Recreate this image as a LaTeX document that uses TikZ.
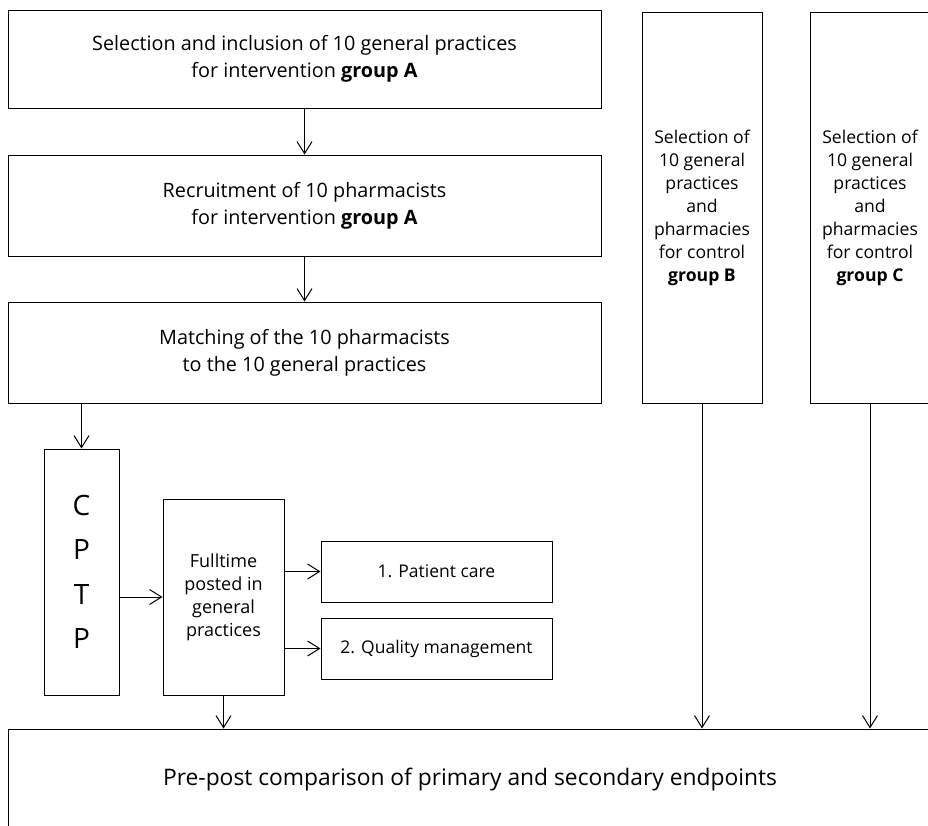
\documentclass[tikz,border=0pt]{standalone}
\usepackage{fontspec}
\setmainfont{Open Sans}
\usepackage{tikz}
\usetikzlibrary{arrows.meta,positioning}

\begin{document}
\begin{tikzpicture}[
    x=1pt, y=-1pt,
    box/.style={rectangle, draw=black, line width=1pt, align=center,
                fill=white, font=\fontsize{19.8}{27}\selectfont, inner sep=0pt},
    tallbox/.style={box, font=\fontsize{17.6}{23}\selectfont},
    smallbox/.style={box, font=\fontsize{17.5}{21}\selectfont},
    arrow/.style={-{Straight Barb[length=12pt, width=15pt]}, line width=1pt}
]
\useasboundingbox (0,0) rectangle (928,825);

% ================= NODES =================
\node[box, minimum width=593pt, minimum height=98pt] (SelA) at (304.5, 59)
    {Selection and inclusion of 10 general practices\\for intervention \textbf{group A}};

\node[box, minimum width=593pt, minimum height=101pt] (Recruit) at (304.5, 205.5)
    {Recruitment of 10 pharmacists\\for intervention \textbf{group A}};

\node[box, minimum width=593pt, minimum height=101pt] (Match) at (304.5, 352.5)
    {Matching of the 10 pharmacists\\to the 10 general practices};

\node[tallbox, minimum width=120pt, minimum height=391pt] (SelB) at (702, 207.5)
    {Selection of\\10 general\\practices\\and\\pharmacies\\for control\\\textbf{group B}};

\node[tallbox, minimum width=120pt, minimum height=391pt] (SelC) at (870, 207.5)
    {Selection of\\10 general\\practices\\and\\pharmacies\\for control\\\textbf{group C}};

\node[box, font=\fontsize{28}{44.5}\selectfont, minimum width=75pt, minimum height=246pt] (CPTP) at (81.5, 572)
    {C\\P\\T\\P};

\node[tallbox, font=\fontsize{18}{23}\selectfont, minimum width=121pt, minimum height=196pt] (Fulltime) at (223.5, 597)
    {Fulltime\\posted in\\general\\practices};

\node[smallbox, minimum width=231pt, minimum height=61pt] (Patient) at (436.5, 571.5)
    {1. Patient care};

\node[smallbox, minimum width=231pt, minimum height=61pt] (Quality) at (436.5, 648.5)
    {2. Quality management};

\node[box, font=\fontsize{22.8}{26}\selectfont, minimum width=924pt, minimum height=101pt] (Compare) at (470, 779.5)
    {Pre-post comparison of primary and secondary endpoints};

% ================= DRAWING ARROWS =================
\draw[arrow] (SelA) -- (Recruit);
\draw[arrow] (Recruit) -- (Match);
\draw[arrow] (CPTP.north |- Match.south) -- (CPTP.north);
\draw[arrow] (CPTP.east |- Fulltime.west) -- (Fulltime.west);
\draw[arrow] (Fulltime.east |- Patient.west) -- (Patient.west);
\draw[arrow] (Fulltime.east |- Quality.west) -- (Quality.west);
\draw[arrow] (Fulltime.south) -- (Fulltime.south |- Compare.north);
\draw[arrow] (SelB.south) -- (SelB.south |- Compare.north);
\draw[arrow] (SelC.south) -- (SelC.south |- Compare.north);

\end{tikzpicture}
\end{document}
